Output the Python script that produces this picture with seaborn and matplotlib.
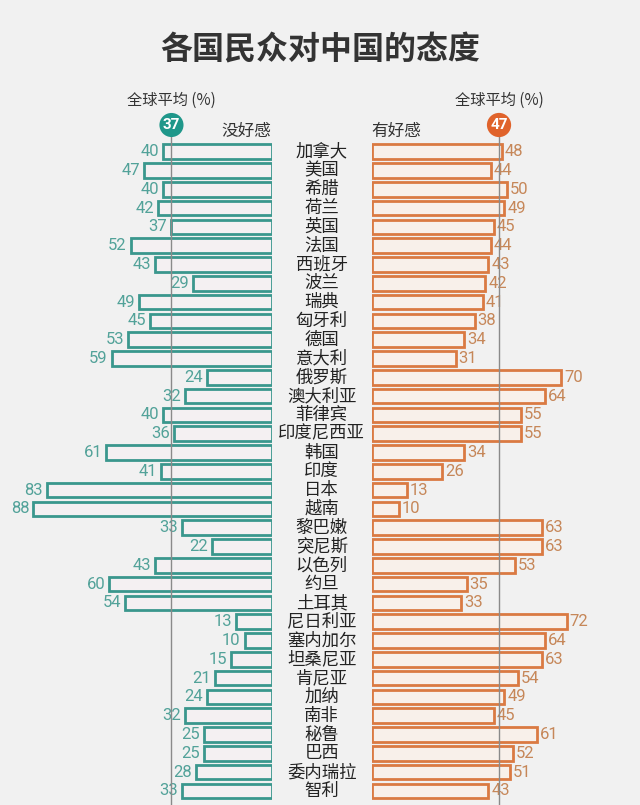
import numpy as np
import pandas as pd
import seaborn as sns
import matplotlib.pyplot as plt

# dati: percentuali di opinione sfavorevole / favorevole verso la Cina
paesi = ["加拿大", "美国", "希腊", "荷兰", "英国", "法国", "西班牙", "波兰", "瑞典",
         "匈牙利", "德国", "意大利", "俄罗斯", "澳大利亚", "菲律宾", "印度尼西亚",
         "韩国", "印度", "日本", "越南", "黎巴嫩", "突尼斯", "以色列", "约旦",
         "土耳其", "尼日利亚", "塞内加尔", "坦桑尼亚", "肯尼亚", "加纳", "南非",
         "秘鲁", "巴西", "委内瑞拉", "智利"]
sfavorevole = [40, 47, 40, 42, 37, 52, 43, 29, 49, 45, 53, 59, 24, 32, 40, 36, 61, 41,
               83, 88, 33, 22, 43, 60, 54, 13, 10, 15, 21, 24, 32, 25, 25, 28, 33]
favorevole = [48, 44, 50, 49, 45, 44, 43, 42, 41, 38, 34, 31, 70, 64, 55, 55, 34, 26,
              13, 10, 63, 63, 53, 35, 33, 72, 64, 63, 54, 49, 45, 61, 52, 51, 43]
media_sfav = 37
media_fav = 47

df = pd.DataFrame({"paese": paesi, "sfav": sfavorevole, "fav": favorevole})

sns.set_theme(style="white")
plt.rcParams["font.family"] = ["Noto Sans CJK SC", "DejaVu Sans"]

sfondo = "#f1f1f1"
verde = "#3a978d"
verde_scuro = "#1f978a"
arancio = "#da7a42"
arancio_scuro = "#e0632b"

W, H = 640, 805
fig = plt.figure(figsize=(W / 100, H / 100), dpi=100, facecolor=sfondo)

scala = 2.709  # pixel per unita'
zero_sx, zero_dx = 271.7, 371.7
top_px = 135
riga0, passo = 151.7, 18.8
ylim = ((H - riga0) / passo, (top_px - riga0) / passo)

ax_l = fig.add_axes([10 / W, 0, (zero_sx - 10) / W, (H - top_px) / H])
ax_r = fig.add_axes([zero_dx / W, 0, (W - 5 - zero_dx) / W, (H - top_px) / H])

sns.barplot(data=df, x="sfav", y="paese", orient="h", ax=ax_l, width=0.78,
            facecolor="#f4f0f2", edgecolor=verde, linewidth=2)
sns.barplot(data=df, x="fav", y="paese", orient="h", ax=ax_r, width=0.78,
            facecolor="#f8f0ea", edgecolor=arancio, linewidth=2)

ax_l.set_xlim((zero_sx - 10) / scala, 0)
ax_r.set_xlim(0, (W - 5 - zero_dx) / scala)

for ax in (ax_l, ax_r):
    ax.set_ylim(*ylim)
    ax.set_facecolor("none")
    ax.set_xlabel("")
    ax.set_ylabel("")
    ax.set_xticks([])
    ax.set_yticks([])
    sns.despine(ax=ax, left=True, bottom=True)

# valori
for i, (a, b) in enumerate(zip(sfavorevole, favorevole)):
    ax_l.annotate(str(a), xy=(a, i), xytext=(-4, 0), textcoords="offset pixels",
                  ha="right", va="center", fontsize=12, color="#52a299",
                  family=["Roboto", "DejaVu Sans"])
    ax_r.annotate(str(b), xy=(b, i), xytext=(3, 0), textcoords="offset pixels",
                  ha="left", va="center", fontsize=12, color="#c68759",
                  family=["Roboto", "DejaVu Sans"])
    ax_r.annotate(paesi[i], xy=(0, i), xytext=(-50, 0), textcoords="offset pixels",
                  ha="center", va="center", fontsize=12.5, color="#222222")

# medie globali
y_cerchio = (125 - riga0) / passo
y_media = (100 - riga0) / passo
y_titoletto = (131 - riga0) / passo
for ax, m, col in ((ax_l, media_sfav, verde_scuro), (ax_r, media_fav, arancio_scuro)):
    ax.plot([m, m], [ylim[0], y_cerchio], color="#8a8a8a", lw=1, zorder=3, clip_on=False)
    ax.text(m, y_cerchio, str(m), ha="center", va="center", color="white", fontsize=11,
            fontweight="bold", zorder=5, clip_on=False, family=["Roboto", "DejaVu Sans"],
            bbox=dict(boxstyle="circle,pad=0.22", fc=col, ec="none"))
    ax.text(m, y_media, "全球平均 (%)", ha="center", va="center", fontsize=11,
            color="#333333", clip_on=False)

ax_l.text(0, y_titoletto, "没好感", ha="right", va="center", fontsize=12,
          color="#333333", clip_on=False)
ax_r.text(0, y_titoletto, "有好感", ha="left", va="center", fontsize=12,
          color="#333333", clip_on=False)

fig.text(0.5, 1 - 50 / H, "各国民众对中国的态度", ha="center", va="center",
         fontsize=23, fontweight="bold", color="#333333")

fig.savefig("out.png", dpi=100, facecolor=sfondo)
